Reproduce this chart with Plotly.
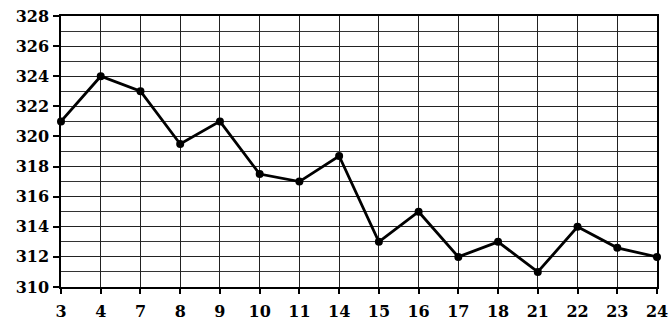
import plotly.graph_objects as go

categories = ["3", "4", "7", "8", "9", "10", "11", "14", "15", "16", "17", "18", "21", "22", "23", "24"]
values = [321, 324, 323, 319.5, 321, 317.5, 317, 318.7, 313, 315, 312, 313, 311, 314, 312.6, 312]
y_ticks = [310, 312, 314, 316, 318, 320, 322, 324, 326, 328]

x_idx = list(range(len(categories)))

fig = go.Figure()
fig.add_trace(go.Scatter(
    x=x_idx, y=values, mode="lines+markers",
    line=dict(color="black", width=2.8),
    marker=dict(color="black", size=8),
    cliponaxis=False, showlegend=False,
))

font = dict(family="DejaVu Serif", size=16, color="black", weight="bold")

fig.update_layout(
    width=669, height=322,
    margin=dict(l=61, r=12, t=16, b=35),
    paper_bgcolor="white", plot_bgcolor="white",
    font=font,
    xaxis=dict(
        range=[0, len(categories) - 1],
        tickmode="array", tickvals=x_idx, ticktext=categories,
        showgrid=True, gridcolor="#222", gridwidth=1,
        ticks="outside", ticklen=5, tickcolor="black", tickwidth=1.5,
        showline=True, linecolor="black", linewidth=1.5, mirror=True,
        zeroline=False, tickfont=font, ticklabelstandoff=4,
        automargin=False,
    ),
    yaxis=dict(
        range=[310, 328],
        tickmode="array", tickvals=y_ticks,
        showgrid=True, gridcolor="#222", gridwidth=1,
        minor=dict(dtick=1, tick0=310, showgrid=True, gridcolor="#333", gridwidth=1, ticks=""),
        ticks="outside", ticklen=6, tickcolor="black", tickwidth=1.5,
        showline=True, linecolor="black", linewidth=1.5, mirror=True,
        zeroline=False, tickfont=font, ticklabelstandoff=1,
        automargin=False,
    ),
)

fig.write_html(
    "out.html",
    config={"displayModeBar": False},
    post_script="document.body.style.margin='0';document.body.style.overflow='hidden';",
)
